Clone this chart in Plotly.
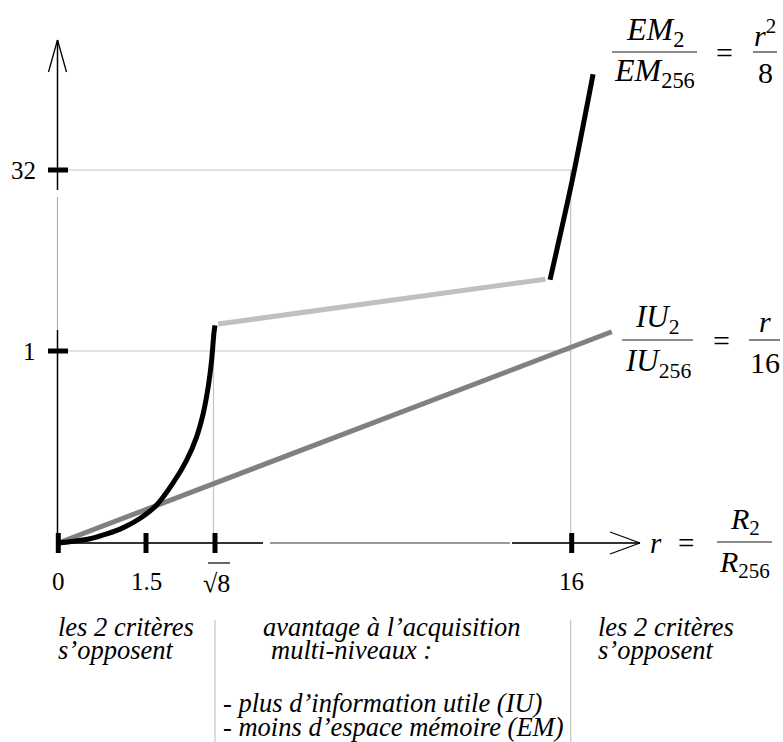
import numpy as np
import plotly.graph_objects as go

SQ8 = float(np.sqrt(8))

# ---------------- data ----------------
x_tick_values = [0, 1.5, SQ8, 16]
x_tick_labels = ["0", "1.5", "√8", "16"]
y_tick_values = [1, 32]
y_tick_labels = ["1", "32"]

# EM2/EM256, first part (0 .. sqrt(8))
em_low_r = [0, 0.257, 0.542, 0.828, 1.112, 1.402, 1.706, 2.025, 2.283, 2.475,
            2.602, 2.698, 2.764, 2.808, 2.828]
em_low_v = [0, 0.009, 0.022, 0.047, 0.080, 0.129, 0.198, 0.314, 0.432, 0.553,
            0.675, 0.814, 0.953, 4.08, 5.37]
# EM2/EM256, middle segment (light grey)
em_mid_r = [2.95, 15.03]
em_mid_v = [5.62, 13.3]
# EM2/EM256, upper part (around r = 16)
em_high_r = [15.2, 16.0, 16.79]
em_high_v = [13.2, 29.8, 48.4]
# IU2/IU256
iu_r = [0, SQ8, 16, 17.48]
iu_v = [0, 0.31, 1.68, 4.3]

# ------------- schematic (broken) scales: value -> drawing position -------------
X_DOMAIN = [0, 1.5, SQ8, 16, 20]
X_RANGE = [58.3, 146, 215, 571.7, 679.9]
Y_DOMAIN = [0, 1, 32, 60]
Y_RANGE = [543, 351, 170, 6.5]


def X(r):
    return np.interp(r, X_DOMAIN, X_RANGE)


def Y(v):
    return np.interp(v, Y_DOMAIN, Y_RANGE)


FONT = "Liberation Serif"
W, H = 783, 742
fig = go.Figure()

# ---------------- data traces ----------------
fig.add_trace(go.Scatter(x=X(iu_r), y=Y(iu_v), mode="lines",
                         line=dict(color="#808080", width=5), hoverinfo="skip"))
fig.add_trace(go.Scatter(x=X(em_mid_r), y=Y(em_mid_v), mode="lines",
                         line=dict(color="#c0c0c0", width=5), hoverinfo="skip"))
fig.add_trace(go.Scatter(x=X(em_low_r), y=Y(em_low_v), mode="lines",
                         line=dict(color="black", width=5, shape="spline", smoothing=0.6),
                         hoverinfo="skip"))
fig.add_trace(go.Scatter(x=X(em_high_r), y=Y(em_high_v), mode="lines",
                         line=dict(color="black", width=5, shape="spline", smoothing=0.8),
                         hoverinfo="skip"))

shapes = []


def seg(x0, y0, x1, y1, color="black", width=1.5, layer="below"):
    shapes.append(dict(type="line", xref="x", yref="y", x0=x0, y0=y0, x1=x1, y1=y1,
                       line=dict(color=color, width=width), layer=layer))


GRID = "#c4c4c4"
y0px = float(Y(0))
axis_x = float(X(0)) - 0.8

# grid lines
for v in y_tick_values:
    seg(68, float(Y(v)), float(X(16)), float(Y(v)), GRID, 1.2)
seg(float(X(16)) - 1, float(Y(32)), float(X(16)) - 1, y0px - 10, GRID, 1.2)
seg(float(X(SQ8)) - 1.5, float(Y(em_low_v[-1])), float(X(SQ8)) - 1.5, y0px - 10, GRID, 1.2)
# separators of the bottom text
seg(float(X(SQ8)), 620, float(X(SQ8)), 742, GRID, 1.2)
seg(float(X(16)) - 1, 620, float(X(16)) - 1, 742, GRID, 1.2)

# y axis (broken)
seg(axis_x, y0px, axis_x, 330, "black", 1.5)
seg(axis_x, 330, axis_x, 197, "#b0b0b0", 1.2)
seg(axis_x, 190, axis_x, 40, "black", 1.5)
seg(axis_x, 40, axis_x - 9, 72, "black", 1.3)
seg(axis_x, 40, axis_x + 9, 72, "black", 1.3)

# x axis (broken)
seg(float(X(0)), y0px, 263, y0px, "#333333", 2)
seg(270, y0px, 510, y0px, "#9a9a9a", 2)
seg(512, y0px, 640, y0px, "#333333", 2)
seg(640, y0px, 610, y0px - 11, "black", 1.3)
seg(640, y0px, 610, y0px + 11, "black", 1.3)

# ticks
for r in x_tick_values:
    seg(float(X(r)), y0px - 10, float(X(r)), y0px + 10, "black", 5, "above")
for v in y_tick_values:
    seg(48, float(Y(v)), 68, float(Y(v)), "black", 5, "above")

annotations = []


def txt(x, y, s, size=24, xanchor="center"):
    annotations.append(dict(x=x, y=y, xref="x", yref="y", text=s, showarrow=False,
                            xanchor=xanchor, yanchor="middle",
                            font=dict(family=FONT, size=size, color="black")))


# tick labels
for r, lab in zip(x_tick_values, x_tick_labels):
    if lab == "√8":
        txt(float(X(r)) + 1, 583, lab, 26)
    else:
        txt(float(X(r)), 581, lab, 25)
seg(float(X(SQ8)) - 7, 563, float(X(SQ8)) + 15, 563, "black", 1.2, "above")
for v, lab in zip(y_tick_values, y_tick_labels):
    txt(38, float(Y(v)), lab, 25, "right")


def fraction(xc, ybar, num, den, half, size, dy_num=20, dy_den=20):
    txt(xc, ybar - dy_num, num, size)
    txt(xc, ybar + dy_den, den, size)
    seg(xc - half, ybar, xc + half, ybar, "#666666", 1.6, "above")


# EM label
fraction(654.5, 52, "<i>EM</i><sub>2</sub>", "<i>EM</i><sub>256</sub>", 42.5, 32, 21, 20)
txt(724, 52, "=", 30)
fraction(765, 52, "<i>r</i><sup>2</sup>", "8", 12, 30, 19, 20)

# IU label
fraction(657.5, 340, "<i>IU</i><sub>2</sub>", "<i>IU</i><sub>256</sub>", 35.5, 31, 21, 23)
txt(721, 340, "=", 30)
fraction(764.5, 340, "<i>r</i>", "16", 15.5, 30, 19, 22)

# r label
txt(656, 543, "<i>r</i>", 29)
txt(686, 543, "=", 29)
fraction(744.5, 542, "<i>R</i><sub>2</sub>", "<i>R</i><sub>256</sub>", 27.5, 30, 21, 22)

# bottom explanations
BT = 26.5
txt(56, 627, "<i>les 2 critères</i>", BT, "left")
txt(56, 650, "<i>s’opposent</i>", BT, "left")
txt(261, 627, "<i>avantage à l’acquisition</i>", BT, "left")
txt(269, 650, "<i>multi-niveaux :</i>", BT, "left")
txt(221, 703, "<i>- plus d’information utile (IU)</i>", BT, "left")
txt(221, 727, "<i>- moins d’espace mémoire (EM)</i>", BT, "left")
txt(596, 627, "<i>les 2 critères</i>", BT, "left")
txt(596, 650, "<i>s’opposent</i>", BT, "left")

fig.update_layout(
    width=W, height=H,
    margin=dict(l=0, r=0, t=0, b=0),
    paper_bgcolor="white", plot_bgcolor="white",
    showlegend=False,
    xaxis=dict(range=[0, W], visible=False, fixedrange=True),
    yaxis=dict(range=[H, 0], visible=False, fixedrange=True),
    shapes=shapes,
    annotations=annotations,
)

fig.write_html(
    "out.html",
    config={"displayModeBar": False},
    post_script="document.body.style.margin='0';document.body.style.overflow='hidden';",
)
